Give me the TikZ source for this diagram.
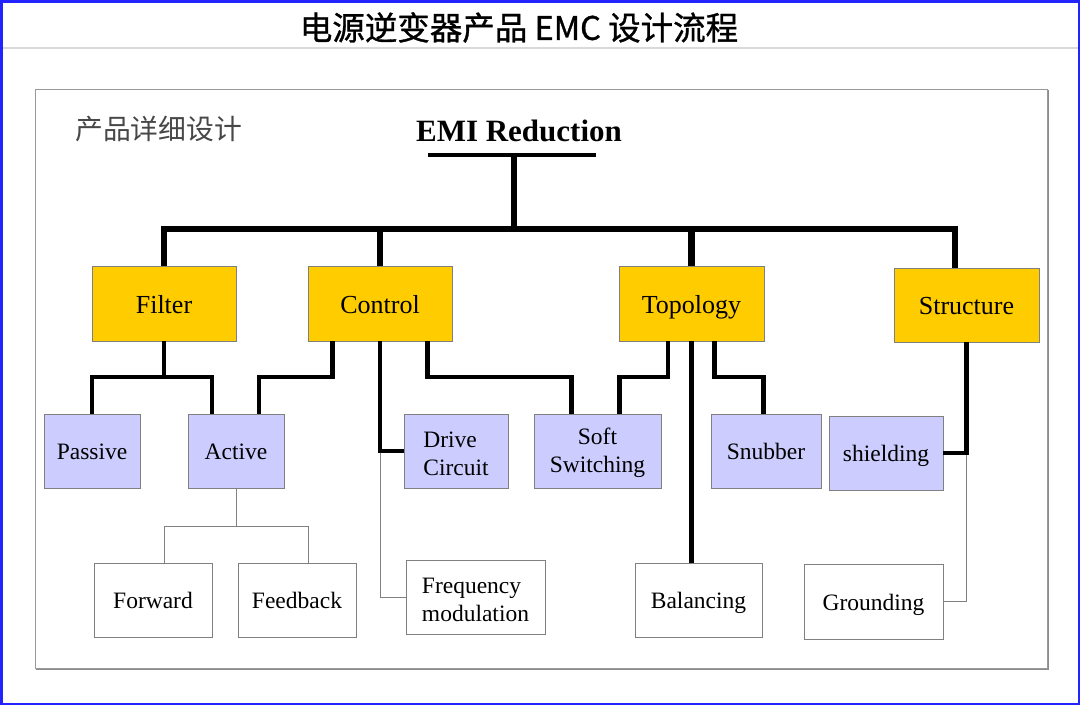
\documentclass[tikz,border=0pt]{standalone}
\usepackage{fontspec}
\setmainfont{Liberation Serif}
\newfontfamily\cjk{Noto Sans CJK SC}
\newfontfamily\cjktitle[FakeBold=1]{Noto Sans CJK SC}
\usetikzlibrary{shadows}
\definecolor{boxyellow}{RGB}{255,204,0}
\definecolor{boxlav}{RGB}{204,204,255}
\definecolor{edgegray}{RGB}{128,128,128}
\definecolor{frameblue}{RGB}{35,35,255}
\newcommand{\liftstrut}{\rule{0pt}{21pt}}
\begin{document}
\begin{tikzpicture}[x=1pt,y=-1pt,
  basebox/.style={draw=edgegray, line width=0.9pt, inner sep=0pt,
    drop shadow={shadow xshift=1.2pt, shadow yshift=-1.2pt, fill=black, opacity=0.35}},
  multi/.style={},
  ybox/.style={basebox, fill=boxyellow, font=\fontsize{26}{31}\selectfont,
    text height=19.2pt, text depth=0pt, minimum height=75pt},
  lbox/.style={basebox, fill=boxlav, font=\fontsize{23.5}{28}\selectfont, minimum height=74pt},
  wbox/.style={basebox, fill=white, font=\fontsize{23.5}{28}\selectfont, minimum height=74pt},
  single/.style={text height=17.6pt, text depth=0pt},
  mainline/.style={line width=6.5pt, black},
  subline/.style={line width=4.5pt, black},
  thinline/.style={line width=1pt, edgegray},
]
\useasboundingbox (0,0) rectangle (1080,705);
\fill[white] (0,0) rectangle (1080,705);
% title separator
\draw[black!15, line width=1.5pt] (0,48) -- (1080,48);
% title
\node[font=\cjktitle\fontsize{32.5}{36}\selectfont, inner sep=0pt] (title) at (519,27.5)
  {电源逆变器产品 EMC 设计流程};
% inner frame
\draw[black!45, line width=1pt] (36.5,90.5) rectangle (1048.5,669.5);
\draw[draw=black!40, fill=white, line width=1pt] (35,89) rectangle (1047,668);
% labels
\node[anchor=west, inner sep=0pt, font=\cjk\fontsize{27.8}{32}\selectfont, text=black!72]
  (detail) at (75,129) {产品详细设计};
\node[anchor=base, inner sep=0pt, font=\bfseries\fontsize{31}{37}\selectfont]
  (emi) at (519,141.7) {EMI Reduction};

% level 1
\node[ybox, minimum width=144pt] (filter) at (164,303.5) {Filter};
\node[ybox, minimum width=144pt] (control) at (380,303.5) {Control};
\node[ybox, minimum width=145pt] (topology) at (691.5,303.5) {Topology};
\node[ybox, minimum width=145pt, minimum height=74pt] (structure) at (966.5,305) {Structure};

% level 2
\node[lbox, single, minimum width=96pt] (passive) at (92,451) {Passive};
\node[lbox, single, minimum width=96pt] (active) at (236,451) {Active};
\node[lbox, multi, align=left, minimum width=104pt] (drive) at (456,451) {\liftstrut Drive\\Circuit};
\node[lbox, multi, align=center, minimum width=127pt] (soft) at (597.5,451) {\liftstrut Soft\\Switching};
\node[lbox, single, minimum width=110pt] (snubber) at (766,451) {Snubber};
\node[lbox, single, minimum width=114pt] (shielding) at (886,453) {shielding};

% level 3
\node[wbox, single, minimum width=118pt] (forward) at (153,600) {Forward};
\node[wbox, single, minimum width=118pt] (feedback) at (297,600) {Feedback};
\node[wbox, multi, align=left, minimum width=139pt] (freq) at (475.5,597) {\liftstrut Frequency\\modulation};
\node[wbox, single, minimum width=127pt] (balancing) at (698.5,600) {Balancing};
\node[wbox, single, minimum width=139pt, minimum height=75pt] (grounding) at (873.5,601.5) {Grounding};

% helper coordinates
\coordinate (barL) at (428,155);
\coordinate (barR) at (596,155);
\coordinate (stem) at (514,155);
\coordinate (hub) at (514,229);
\coordinate (lv) at (0,377);
\coordinate (lvthree) at (0,526);
\coordinate (structT) at ([xshift=-11.5pt]structure.north);
\coordinate (activeL) at ([xshift=-24pt]active.north);
\coordinate (activeR) at ([xshift=23pt]active.north);
\coordinate (ctrlL) at ([xshift=-47.3pt]control.south);
\coordinate (ctrlR) at ([xshift=47.7pt]control.south);
\coordinate (softL) at ([xshift=-26pt]soft.north);
\coordinate (softR) at ([xshift=22pt]soft.north);
\coordinate (topoL) at ([xshift=-23.5pt]topology.south);
\coordinate (topoR) at ([xshift=23pt]topology.south);
\coordinate (snubT) at ([xshift=-2.4pt]snubber.north);
\coordinate (fwdT) at ([xshift=11pt]forward.north);
\coordinate (fbT) at ([xshift=11pt]feedback.north);

% thin connectors
\draw[thinline] (active.south) -- (active.south |- lvthree);
\draw[thinline] (fwdT) |- (fbT |- lvthree) -- (fbT);
\draw[thinline] (control.south |- drive.west) |- (freq.west);
\draw[thinline] (structure.south |- shielding.east) |- (grounding.east);

% level 2 connectors
\draw[subline] (filter.south) -- (filter.south |- lv);
\draw[subline] (passive.north) |- (activeL |- lv) -- (activeL);
\draw[subline] (ctrlL) |- (activeR |- lv) -- (activeR);
\draw[subline] (control.south) |- (drive.west);
\draw[subline] (ctrlR) |- (softL |- lv) -- (softL);
\draw[subline] (topoL) |- (softR |- lv) -- (softR);
\draw[subline] (topology.south) -- (topology.south |- balancing.north);
\draw[subline] (topoR) |- (snubT |- lv) -- (snubT);
\draw[subline] (structure.south) |- (shielding.east);

% main tree
\draw[line width=4pt] (barL) -- (barR);
\draw[mainline] (stem) -- (hub);
\draw[mainline] (filter.north) |- (hub) -| (structT);
\draw[mainline] (control.north) -- (control.north |- hub);
\draw[mainline] (topology.north) -- (topology.north |- hub);

% outer blue frame
\draw[frameblue, line width=2.5pt] (1.25,1.25) rectangle (1078.75,703.75);
\end{tikzpicture}
\end{document}
